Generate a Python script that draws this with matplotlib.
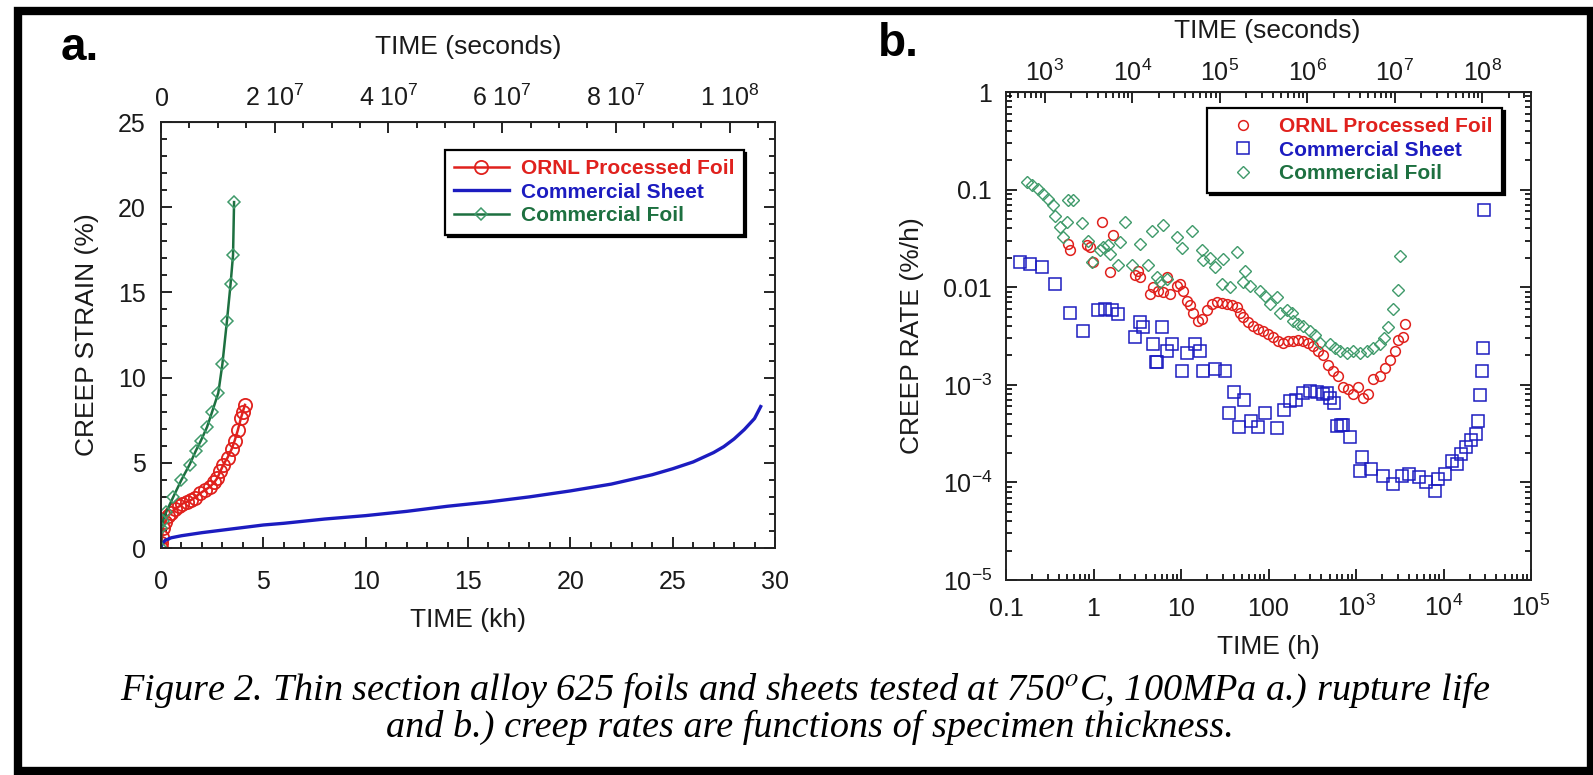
import matplotlib
matplotlib.use('Agg')
import matplotlib.pyplot as plt
from matplotlib.patches import Rectangle
from matplotlib.ticker import MultipleLocator, LogLocator, NullFormatter

plt.rcParams['font.family'] = ['Liberation Sans', 'DejaVu Sans']
plt.rcParams['mathtext.fontset'] = 'custom'
plt.rcParams['mathtext.rm'] = 'Liberation Sans'
plt.rcParams['mathtext.it'] = 'Liberation Sans:italic'
plt.rcParams['mathtext.bf'] = 'Liberation Sans:bold'

RED = '#e0211d'
BLUE = '#1c1cc0'
GREEN = '#1d7040'
GREEN_MK = '#3f9a6a'

labels = ['ORNL Processed Foil', 'Commercial Sheet', 'Commercial Foil']

# (a) creep strain (%) vs time (kh)
ornl_t = [0, 0.02, 0.05, 0.1, 0.2, 0.35, 0.5, 0.7, 0.9, 1.05, 1.25, 1.45, 1.65, 1.9,
          2.15, 2.4, 2.6, 2.75, 2.9, 3.05, 3.25, 3.45, 3.6, 3.75, 3.9, 4.0, 4.1]
ornl_s = [0, 0.3, 0.65, 1.2, 1.5, 1.9, 2.05, 2.3, 2.45, 2.6, 2.7, 2.8, 2.95, 3.2,
          3.4, 3.6, 3.85, 4.1, 4.5, 4.9, 5.3, 5.8, 6.3, 6.9, 7.6, 8.0, 8.4]

sheet_t = [0, 0.05, 0.2, 0.5, 1, 2, 3, 4, 5, 6, 8, 10, 12, 14, 16, 18, 20, 22, 24,
           25, 26, 27, 27.5, 28, 28.5, 29, 29.3]
sheet_s = [0, 0.25, 0.45, 0.6, 0.72, 0.9, 1.05, 1.2, 1.35, 1.45, 1.7, 1.9, 2.15, 2.45,
           2.7, 3.0, 3.35, 3.75, 4.3, 4.65, 5.05, 5.6, 5.95, 6.4, 6.95, 7.6, 8.3]

foil_t = [0, 0.02, 0.1, 0.25, 0.6, 1.0, 1.4, 1.7, 1.95, 2.25, 2.5, 2.8, 3.0, 3.22,
          3.4, 3.52, 3.57]
foil_s = [0, 1.2, 1.6, 2.1, 3.0, 4.0, 4.9, 5.7, 6.3, 7.1, 8.0, 9.1, 10.8, 13.3,
          15.5, 17.2, 20.3]

# (b) creep rate (%/h) vs time (h)
ornl_rate_t = [0.515, 0.54, 0.836, 0.912, 0.996, 1.24, 1.54, 1.69, 2.98, 3.25, 3.40,
               4.42, 4.83, 5.51, 6.29, 6.86, 7.48, 8.92, 9.74, 10.6, 11.6, 12.7, 13.8,
               15.8, 17.2, 19.6, 22.4, 25.6, 29.2, 33.3, 37.9, 43.3, 47.2, 51.5, 58.9,
               67.1, 76.6, 87.4, 99.6, 114, 130, 148, 169, 192, 219, 250, 285, 325,
               371, 423, 483, 551, 628, 716, 817, 933, 1064, 1213, 1384, 1578, 1880,
               2143, 2449, 2793, 3050, 3400, 3600]
ornl_rate = [0.0279, 0.024, 0.0268, 0.0258, 0.0181, 0.0466, 0.0143, 0.034, 0.0132,
             0.0148, 0.0127, 0.0085, 0.0100, 0.0092, 0.0089, 0.0127, 0.0085, 0.0104,
             0.0108, 0.0092, 0.0073, 0.0065, 0.0055, 0.0045, 0.0047, 0.0058, 0.0067,
             0.0070, 0.0069, 0.0067, 0.0065, 0.0062, 0.0055, 0.0049, 0.0044, 0.0040,
             0.0037, 0.0036, 0.0033, 0.0031, 0.0028, 0.0027, 0.0028, 0.0028, 0.0029,
             0.0028, 0.0027, 0.0025, 0.0022, 0.0020, 0.0016, 0.0014, 0.00124, 0.00094,
             0.00090, 0.00080, 0.00094, 0.00074, 0.00080, 0.00114, 0.00124, 0.0015,
             0.0018, 0.0022, 0.0029, 0.0031, 0.0042]

sheet_rate_t = [0.145, 0.188, 0.256, 0.363, 0.538, 0.765, 1.14, 1.35, 1.61, 1.92, 2.98,
                3.40, 3.72, 4.83, 5.19, 5.27, 6.01, 6.86, 7.82, 10.2, 11.6, 14.5, 16.5,
                18.0, 24.5, 31.8, 35.8, 40.6, 45.9, 52, 62.8, 75.7, 91, 124, 150, 176,
                205, 250, 298, 359, 423, 461, 505, 555, 601, 670, 716, 859, 1102, 1172,
                1503, 2054, 2634, 3380, 4074, 5230, 6310, 8090, 8610, 10380, 12500,
                14160, 16040, 18200, 20600, 23300, 24800, 26400, 27400, 28100, 28800]
sheet_rate = [0.0181, 0.0174, 0.0160, 0.0108, 0.0055, 0.0036, 0.0058, 0.0060, 0.0058,
              0.0053, 0.0031, 0.0044, 0.0039, 0.0026, 0.0017, 0.0017, 0.0039, 0.0022,
              0.0026, 0.0014, 0.0021, 0.0026, 0.0022, 0.0014, 0.00145, 0.0014, 0.00051,
              0.00085, 0.00037, 0.0007, 0.00043, 0.00037, 0.00051, 0.00036, 0.00055,
              0.00069, 0.0007, 0.00083, 0.00087, 0.00085, 0.0008, 0.00082, 0.00074,
              0.00065, 0.00038, 0.00039, 0.00039, 0.00029, 0.000132, 0.00018, 0.000137,
              0.000117, 0.000096, 0.000117, 0.000122, 0.000113, 0.0001, 0.000082,
              0.000108, 0.000122, 0.000167, 0.000155, 0.000196, 0.00023, 0.00027,
              0.000316, 0.00043, 0.00079, 0.0014, 0.0024, 0.062]

foil_rate_t = [0.172, 0.196, 0.234, 0.267, 0.305, 0.348, 0.363, 0.414, 0.452, 0.493,
               0.515, 0.589, 0.732, 0.873, 0.953, 1.19, 1.29, 1.48, 1.54, 1.92, 2.01,
               2.29, 2.73, 3.40, 4.24, 4.62, 5.27, 5.75, 6.29, 6.86, 8.92, 10.2, 13.2,
               17.2, 18.0, 21.4, 24.5, 29.2, 30.5, 36.3, 43.3, 51.5, 53.8, 61.5, 80, 91,
               104, 124, 135, 161, 184, 192, 219, 250, 298, 340, 388, 505, 575, 656,
               782, 933, 1110, 1320, 1580, 1880, 2100, 2340, 2630, 2990, 3160]
foil_rate = [0.12, 0.111, 0.102, 0.091, 0.081, 0.069, 0.054, 0.041, 0.033, 0.047,
             0.078, 0.078, 0.045, 0.030, 0.018, 0.024, 0.026, 0.027, 0.022, 0.017,
             0.029, 0.047, 0.017, 0.028, 0.017, 0.038, 0.0127, 0.0112, 0.043, 0.0122,
             0.033, 0.025, 0.038, 0.024, 0.019, 0.020, 0.016, 0.0108, 0.0195, 0.010,
             0.023, 0.0112, 0.0148, 0.0104, 0.0092, 0.0082, 0.0067, 0.0079, 0.0055,
             0.0058, 0.0055, 0.0045, 0.0042, 0.0040, 0.0036, 0.0032, 0.0027, 0.0026,
             0.0024, 0.0022, 0.0021, 0.0022, 0.0021, 0.0022, 0.0024, 0.0026, 0.0030,
             0.0039, 0.006, 0.0094, 0.021]

sec_ticks_a = [0, 2e7, 4e7, 6e7, 8e7, 1e8]
sec_labels_a = ['$0$', r'$2\ 10^7$', r'$4\ 10^7$', r'$6\ 10^7$', r'$8\ 10^7$', r'$1\ 10^8$']
h_ticks_b = [0.1, 1, 10, 100, 1e3, 1e4, 1e5]
h_labels_b = ['0.1', '1', '10', '100', '$10^3$', '$10^4$', '$10^5$']
s_ticks_b = [1e3, 1e4, 1e5, 1e6, 1e7, 1e8]
s_labels_b = ['$10^3$', '$10^4$', '$10^5$', '$10^6$', '$10^7$', '$10^8$']
rate_ticks = [1e-5, 1e-4, 1e-3, 0.01, 0.1, 1]
rate_labels = ['$10^{-5}$', '$10^{-4}$', '$10^{-3}$', '0.01', '0.1', '1']

W, H = 1593, 775
fig = plt.figure(figsize=(W / 100, H / 100), dpi=100)
TXT = '#1a1a1a'


def style_axis(ax):
    for sp in ax.spines.values():
        sp.set_linewidth(1.4)
        sp.set_color('#222222')


# ---------- panel a ----------
ax1 = fig.add_axes([161 / W, 1 - 548 / H, 614 / W, 426 / H])
ax1.plot(ornl_t, ornl_s, color=RED, lw=1.8, marker='o', ms=9.5, mfc='none', mew=1.3,
         label=labels[0])
ax1.plot(sheet_t, sheet_s, color=BLUE, lw=2.4, label=labels[1])
ax1.plot(foil_t, foil_s, color=GREEN, lw=1.8, marker='D', ms=6, mfc='none',
         mec=GREEN_MK, mew=1.1, label=labels[2])
ax1.set_xlim(0, 30)
ax1.set_ylim(0, 25)
ax1.xaxis.set_major_locator(MultipleLocator(5))
ax1.xaxis.set_minor_locator(MultipleLocator(1))
ax1.yaxis.set_major_locator(MultipleLocator(5))
ax1.yaxis.set_minor_locator(MultipleLocator(1))
ax1.tick_params(which='both', direction='in', right=True, top=False, width=1.2,
                labelsize=18, labelcolor=TXT)
ax1.tick_params(which='major', length=8)
ax1.tick_params(which='minor', length=4)
ax1.tick_params(axis='x', pad=16)
ax1.tick_params(axis='y', pad=11)
style_axis(ax1)

sec1 = ax1.secondary_xaxis('top', functions=(lambda x: x * 3.6e6, lambda s: s / 3.6e6))
sec1.set_xticks(sec_ticks_a, sec_labels_a)
sec1.xaxis.set_minor_locator(MultipleLocator(5e6))
sec1.tick_params(which='both', direction='in', width=1.2, labelsize=18, labelcolor=TXT,
                 pad=8)
sec1.tick_params(which='major', length=8)
sec1.tick_params(which='minor', length=4)
fig.text(468 / W, 1 - 47 / H, 'TIME (seconds)', fontsize=19, color=TXT,
         ha='center', va='center')

ax1.set_xlabel('TIME (kh)', fontsize=19, color=TXT)
ax1.xaxis.label.set_va('center')
ax1.xaxis.set_label_coords(0.5, (548 - 620) / 426)
ax1.set_ylabel('CREEP STRAIN (%)', fontsize=19, color=TXT)
ax1.yaxis.label.set_va('center')
ax1.yaxis.set_label_coords((87 - 161) / 614, 0.5)

leg1 = ax1.legend(loc='upper left', bbox_to_anchor=((445 - 161) / 614, (548 - 150) / 426),
                  borderaxespad=0, prop={'weight': 'bold', 'size': 15},
                  labelcolor='linecolor', fancybox=False, edgecolor='black',
                  framealpha=1, shadow={'color': 'black', 'alpha': 1},
                  handlelength=2.6, handletextpad=0.58, labelspacing=0.21,
                  borderpad=0.45)
leg1.get_frame().set_linewidth(1.6)

# ---------- panel b ----------
AX2_TOP, AX2_BOT = 92, 580
ax2 = fig.add_axes([1006 / W, 1 - AX2_BOT / H, 525 / W, (AX2_BOT - AX2_TOP) / H])
ax2.plot(ornl_rate_t, ornl_rate, ls='none', marker='o', ms=7, mfc='none',
         color=RED, mew=1.1, label=labels[0])
ax2.plot(sheet_rate_t, sheet_rate, ls='none', marker='s', ms=8.5, mfc='none',
         color=BLUE, mew=1.1, label=labels[1])
ax2.plot(foil_rate_t, foil_rate, ls='none', marker='D', ms=6.5, mfc='none',
         color=GREEN_MK, mew=1.0, label=labels[2])
ax2.set_xscale('log')
ax2.set_yscale('log')
ax2.set_xlim(0.1, 1e5)
ax2.set_ylim(1e-5, 1)
ax2.set_xticks(h_ticks_b, h_labels_b)
ax2.set_yticks(rate_ticks, rate_labels)
ax2.xaxis.set_minor_locator(LogLocator(base=10, subs=range(2, 10), numticks=50))
ax2.yaxis.set_minor_locator(LogLocator(base=10, subs=range(2, 10), numticks=50))
ax2.xaxis.set_minor_formatter(NullFormatter())
ax2.yaxis.set_minor_formatter(NullFormatter())
ax2.tick_params(which='both', direction='in', right=True, top=False, width=1.2,
                labelsize=18, labelcolor=TXT)
ax2.tick_params(which='major', length=8)
ax2.tick_params(which='minor', length=4)
ax2.tick_params(axis='x', pad=26)
ax2.tick_params(axis='y', pad=10)
for lab in ax2.get_xticklabels():
    lab.set_va('baseline')
style_axis(ax2)

sec2 = ax2.secondary_xaxis('top', functions=(lambda h: h * 3600, lambda s: s / 3600))
sec2.set_xticks(s_ticks_b, s_labels_b)
sec2.xaxis.set_minor_locator(LogLocator(base=10, subs=range(2, 10), numticks=50))
sec2.xaxis.set_minor_formatter(NullFormatter())
sec2.tick_params(which='both', direction='in', width=1.2, labelsize=18, labelcolor=TXT,
                 pad=4)
sec2.tick_params(which='major', length=8)
sec2.tick_params(which='minor', length=4)
fig.text(1267 / W, 1 - 31 / H, 'TIME (seconds)', fontsize=19, color=TXT,
         ha='center', va='center')

ax2.set_xlabel('TIME (h)', fontsize=19, color=TXT)
ax2.xaxis.label.set_va('center')
ax2.xaxis.set_label_coords(0.5, (AX2_BOT - 647) / (AX2_BOT - AX2_TOP))
ax2.set_ylabel('CREEP RATE (%/h)', fontsize=19, color=TXT)
ax2.yaxis.label.set_va('center')
ax2.yaxis.set_label_coords((912 - 1006) / 525, 0.5)

leg2 = ax2.legend(loc='upper left',
                  bbox_to_anchor=((1207 - 1006) / 525, (AX2_BOT - 108) / (AX2_BOT - AX2_TOP)),
                  borderaxespad=0, prop={'weight': 'bold', 'size': 15},
                  labelcolor=[RED, BLUE, GREEN], fancybox=False, edgecolor='black',
                  framealpha=1, shadow={'color': 'black', 'alpha': 1},
                  handlelength=2.6, handletextpad=0.4, labelspacing=0.21,
                  borderpad=0.45)
leg2.get_frame().set_linewidth(1.6)

# panel letters
fig.text(61 / W, 1 - 60 / H, 'a.', fontsize=33, fontweight='bold', ha='left', va='baseline')
fig.text(878 / W, 1 - 56 / H, 'b.', fontsize=33, fontweight='bold', ha='left', va='baseline')

# caption
fig.text(805 / W, 1 - 690 / H,
         'Figure 2. Thin section alloy 625 foils and sheets tested at 750$^{o}$C, '
         '100MPa a.) rupture life',
         family='Liberation Serif', style='italic', fontsize=27.5, ha='center', va='center',
         math_fontfamily='stix')
fig.text(810 / W, 1 - 727 / H,
         'and b.) creep rates are functions of specimen thickness.',
         family='Liberation Serif', style='italic', fontsize=27.5, ha='center', va='center')

# outer frame
fig.add_artist(Rectangle((18 / W, 4 / H), (1591 - 18) / W, (764 - 4) / H,
                         transform=fig.transFigure, fill=False, lw=6, ec='black'))

fig.savefig('out.png', dpi=100)
